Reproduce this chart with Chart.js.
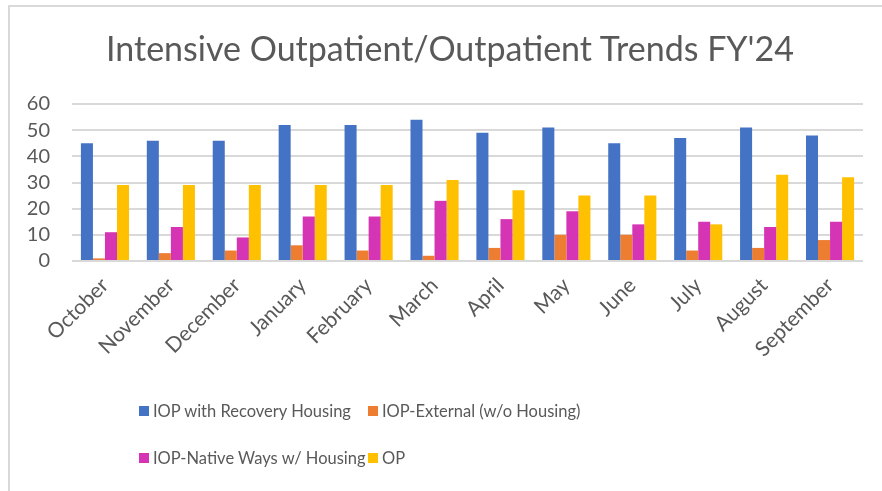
<!DOCTYPE html>
<html>
<head>
<meta charset="utf-8">
<script src="https://cdn.jsdelivr.net/npm/chart.js@4"></script>
<style>
    body { margin: 0; background: #fff; }
    #wrap { position: relative; width: 882px; height: 491px; overflow: hidden; font-family: Lato, sans-serif; }
    #frame { position: absolute; left: 8px; top: 5px; width: 900px; height: 500px; border-left: 2px solid #d9d9d9; border-top: 2px solid #d9d9d9; }
    #grafica { position: absolute; left: 0; top: 0; }
    #titulo { position: absolute; left: 0; top: 28px; width: 900px; text-align: center; color: #595959; font-size: 34px; line-height: 40px; white-space: nowrap; }
    #leyenda { position: absolute; left: 139px; top: 398px; display: grid; grid-template-columns: 229px auto; row-gap: 22px; color: #595959; font-size: 16.5px; }
    .item { display: flex; align-items: center; height: 25px; white-space: nowrap; }
    .cuadro { width: 10px; height: 10px; margin-right: 4px; flex-shrink: 0; }
</style>
</head>
<body>
<div id="wrap">
    <div id="frame"></div>
    <canvas id="grafica" width="882" height="491"></canvas>
    <div id="titulo"></div>
    <div id="leyenda"></div>
</div>
<script>
var titulo = "Intensive Outpatient/Outpatient Trends FY'24";
var meses = ["October", "November", "December", "January", "February", "March", "April", "May", "June", "July", "August", "September"];
var series = ["IOP with Recovery Housing", "IOP-External (w/o Housing)", "IOP-Native Ways w/ Housing", "OP"];
var iopRecovery = [45, 46, 46, 52, 52, 54, 49, 51, 45, 47, 51, 48];
var iopExternal = [1, 3, 4, 6, 4, 2, 5, 10, 10, 4, 5, 8];
var iopNative = [11, 13, 9, 17, 17, 23, 16, 19, 14, 15, 13, 15];
var op = [29, 29, 29, 29, 29, 31, 27, 25, 25, 14, 33, 32];
var yTicks = [0, 10, 20, 30, 40, 50, 60];

var colores = ["#4472C4", "#ED7D31", "#D535B4", "#FFC000"];
var valores = [iopRecovery, iopExternal, iopNative, op];

const grafica = new Chart(document.getElementById("grafica"), {
    type: "bar",
    data: {
        labels: meses,
        datasets: series.map(function (nombre, i) {
            return {
                label: nombre,
                data: valores[i],
                backgroundColor: colores[i],
                borderWidth: 0,
                categoryPercentage: 0.73,
                barPercentage: 1,
            };
        }),
    },
    options: {
        responsive: false,
        animation: false,
        layout: { padding: { left: 8, right: 19, top: 104, bottom: 105 } },
        plugins: {
            legend: { display: false },
            tooltip: { enabled: false },
            title: { display: false },
        },
        scales: {
            y: {
                min: yTicks[0],
                max: yTicks[yTicks.length - 1],
                afterFit: function (scale) { scale.width = 64; },
                afterBuildTicks: function (scale) {
                    scale.ticks = yTicks.map(function (v) { return { value: v }; });
                },
                ticks: {
                    autoSkip: false,
                    padding: 22,
                    color: "#595959",
                    font: { family: "Lato", size: 20 },
                },
                grid: { color: "#d9d9d9", lineWidth: 2, drawTicks: false },
                border: { display: false },
            },
            x: {
                afterFit: function (scale) { scale.height = 125; },
                ticks: {
                    minRotation: 45,
                    maxRotation: 45,
                    padding: 4,
                    color: "#595959",
                    font: { family: "Lato", size: 21 },
                },
                grid: { display: false },
                border: { display: false },
            },
        },
    },
});

// titulo y leyenda en HTML para poder alinearlos como en el original
document.getElementById("titulo").textContent = titulo;

var leyenda = document.getElementById("leyenda");
series.forEach(function (nombre, i) {
    var item = document.createElement("div");
    item.className = "item";
    var cuadro = document.createElement("span");
    cuadro.className = "cuadro";
    cuadro.style.background = colores[i];
    item.appendChild(cuadro);
    item.appendChild(document.createTextNode(nombre));
    leyenda.appendChild(item);
});
</script>
</body>
</html>
